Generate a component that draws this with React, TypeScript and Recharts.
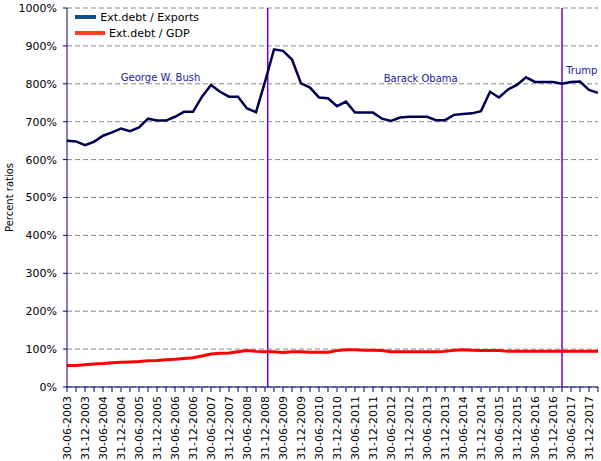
import {
  LineChart,
  Line,
  XAxis,
  YAxis,
  CartesianGrid,
  ReferenceLine,
  ReferenceDot,
} from "recharts";

const FONT = "'DejaVu Sans', Verdana, sans-serif";

const QUARTERS = [
  "30-06-2003", "30-09-2003", "31-12-2003",
  "31-03-2004", "30-06-2004", "30-09-2004", "31-12-2004",
  "31-03-2005", "30-06-2005", "30-09-2005", "31-12-2005",
  "31-03-2006", "30-06-2006", "30-09-2006", "31-12-2006",
  "31-03-2007", "30-06-2007", "30-09-2007", "31-12-2007",
  "31-03-2008", "30-06-2008", "30-09-2008", "31-12-2008",
  "31-03-2009", "30-06-2009", "30-09-2009", "31-12-2009",
  "31-03-2010", "30-06-2010", "30-09-2010", "31-12-2010",
  "31-03-2011", "30-06-2011", "30-09-2011", "31-12-2011",
  "31-03-2012", "30-06-2012", "30-09-2012", "31-12-2012",
  "31-03-2013", "30-06-2013", "30-09-2013", "31-12-2013",
  "31-03-2014", "30-06-2014", "30-09-2014", "31-12-2014",
  "31-03-2015", "30-06-2015", "30-09-2015", "31-12-2015",
  "31-03-2016", "30-06-2016", "30-09-2016", "31-12-2016",
  "31-03-2017", "30-06-2017", "30-09-2017", "31-12-2017",
  "31-03-2018",
];

// external debt as % of exports
const DEBT_EXPORTS = [
  650, 648, 638, 647, 663, 672, 682, 675, 685, 708,
  703, 703, 713, 726, 726, 766, 797, 779, 766, 766,
  735, 725, 805, 891, 887, 864, 801, 790, 764, 762,
  741, 753, 724, 724, 724, 708, 702, 711, 713, 713,
  713, 704, 704, 718, 720, 722, 728, 779, 764, 785,
  797, 817, 805, 805, 805, 800, 805, 806, 784, 776,
];

// external debt as % of GDP
const DEBT_GDP = [
  57, 57, 59, 61, 62, 64, 65, 66, 67, 69,
  70, 72, 73, 75, 77, 82, 87, 89, 90, 93,
  96, 94, 93, 93, 91, 93, 93, 92, 92, 92,
  96, 98, 98, 97, 97, 96, 93, 93, 93, 93,
  93, 93, 94, 97, 98, 97, 96, 96, 96, 94,
  94, 94, 94, 94, 94, 94, 94, 94, 94, 94,
];

const Y_TICKS = [0, 100, 200, 300, 400, 500, 600, 700, 800, 900, 1000];

const SERIES = [
  { key: "exports", label: "Ext.debt / Exports", line: "#000050", swatch: "#104c8c", width: 2.5 },
  { key: "gdp", label: "Ext.debt / GDP", line: "#ff0000", swatch: "#ff4020", width: 3 },
];

// presidential terms: start position (in quarters) and label placement
const TERM_STARTS = [22.3, 55];
const TERM_LABELS = [
  { name: "George W. Bush", x: 10.4, y: 818 },
  { name: "Barack Obama", x: 39.3, y: 815 },
  { name: "Trump", x: 57.2, y: 834 },
];

const data = QUARTERS.map((date, i) => ({
  i,
  date,
  exports: DEBT_EXPORTS[i],
  gdp: DEBT_GDP[i],
}));

const QuarterTick = (props: any) => {
  const { x, y, payload } = props;
  const i = payload.value;
  if (i % 2 !== 0) return <g />;
  return (
    <g transform={`translate(${x},${y})`}>
      <text
        transform="rotate(-90)"
        textAnchor="end"
        dy="0.35em"
        fontSize={11}
        fontFamily={FONT}
        fill="#000"
      >
        {QUARTERS[i]}
      </text>
    </g>
  );
};

export default function App() {
  return (
    <div style={{ position: "absolute", left: 0, top: 0, width: 601, height: 461, background: "#fff" }}>
      <LineChart
        width={601}
        height={461}
        data={data}
        margin={{ top: 8, right: 3, bottom: 0, left: 0 }}
      >
        <CartesianGrid vertical={false} stroke="#888" strokeDasharray="5 3" />
        <XAxis
          dataKey="i"
          type="number"
          domain={[0, 59]}
          ticks={QUARTERS.map((_, i) => i)}
          interval={0}
          height={74}
          tick={<QuarterTick />}
          tickSize={5}
          tickMargin={4}
          axisLine={{ stroke: "#000080" }}
          tickLine={{ stroke: "#000080" }}
        />
        <YAxis
          width={67}
          domain={[0, 1000]}
          ticks={Y_TICKS}
          interval={0}
          tickFormatter={(v: number) => `${v}%`}
          tick={{ fill: "#000", fontSize: 11, fontFamily: FONT }}
          tickSize={4}
          tickMargin={6}
          axisLine={{ stroke: "#000080" }}
          tickLine={{ stroke: "#000080" }}
          label={{
            value: "Percent ratios",
            angle: -90,
            position: "insideLeft",
            offset: 9,
            textAnchor: "middle",
            fontSize: 10,
            fontFamily: FONT,
            fill: "#000",
          }}
        />
        {TERM_STARTS.map((x) => (
          <ReferenceLine key={x} x={x} stroke="#6a00d8" strokeWidth={1.5} />
        ))}
        {TERM_LABELS.map((t) => (
          <ReferenceDot
            key={t.name}
            x={t.x}
            y={t.y}
            r={0}
            fill="none"
            stroke="none"
            label={{
              value: t.name,
              position: "center",
              fill: "#20209f",
              fontSize: 10,
              fontFamily: FONT,
            }}
          />
        ))}
        {SERIES.map((s) => (
          <Line
            key={s.key}
            dataKey={s.key}
            name={s.label}
            stroke={s.line}
            strokeWidth={s.width}
            dot={false}
            isAnimationActive={false}
            type="linear"
          />
        ))}
      </LineChart>
      <div
        style={{
          position: "absolute",
          left: 68,
          top: 9,
          width: 131,
          height: 33,
          background: "#fff",
          fontFamily: FONT,
          fontSize: 11,
          color: "#000",
          whiteSpace: "nowrap",
        }}
      >
        {SERIES.map((s) => (
          <div key={s.key} style={{ display: "flex", alignItems: "center", height: 16 }}>
            <span
              style={{
                display: "inline-block",
                width: 30,
                height: 4,
                background: s.swatch,
                marginLeft: 7,
                marginRight: 4,
              }}
            />
            <span>{s.label}</span>
          </div>
        ))}
      </div>
    </div>
  );
}
